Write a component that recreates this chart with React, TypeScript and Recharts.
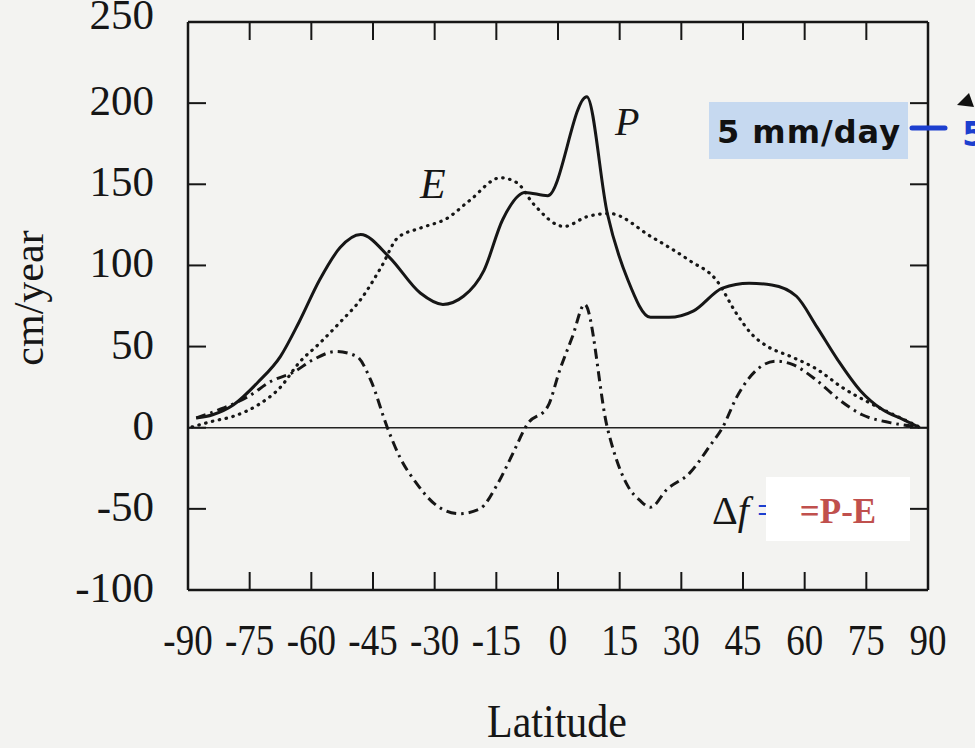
import { LineChart, Line, XAxis, YAxis, ReferenceLine } from 'recharts';

// latitude (deg) and cm/year values
const LAT_TICKS = [-90, -75, -60, -45, -30, -15, 0, 15, 30, 45, 60, 75, 90];
const CMY_TICKS = [-100, -50, 0, 50, 100, 150, 200, 250];

const P_LAT = [-88, -84, -79, -73, -67.5, -63, -58, -53, -48, -41, -33.5, -28, -23, -18, -13.5, -8, -2.5, 7, 12, 17, 22.5, 27, 33, 40, 46.5, 52, 58, 63, 68, 73.5, 79, 84, 88];
const P_VAL = [6, 8, 14, 28, 44, 65, 91, 111, 119, 105, 83, 76, 81, 97, 128, 145, 143, 204, 132, 91, 68, 68, 72, 86, 89, 88, 81, 62, 42, 23, 11, 5, 0];

const E_LAT = [-89, -84, -79, -73, -67.5, -63, -58, -53, -48, -43, -39, -33.5, -27, -21.5, -14, -10, -6, 1.5, 7, 12.5, 22.5, 32, 38.5, 43.5, 47, 51, 56.5, 63, 69, 76, 82.5, 87.5];
const E_VAL = [0.5, 4, 7, 14, 25, 40, 52, 65, 79, 99, 117, 123, 129, 140, 154, 151, 138, 124, 130, 132, 118, 103, 91, 70, 58, 50, 44, 36, 25, 15, 7, 1];

const D_LAT = [-88, -81.5, -75.5, -69.5, -64.5, -59.5, -54, -49, -45.5, -41.5, -38.5, -34.5, -29.5, -24, -19, -15, -11, -7.5, -2.5, 0.5, 3.5, 6.5, 12, 14, 17, 20, 22.5, 26.5, 32, 37, 40, 43.5, 48.5, 53, 57, 63, 68.5, 74, 81, 87.5];
const D_VAL = [6, 12, 19, 29, 34, 42, 47, 44, 29, 0, -18, -34, -48, -53, -50, -36, -16, 2, 13, 36, 56, 76, 0, -18, -36, -45, -49, -38, -28, -11, 0, 19, 36, 41, 39, 29, 17, 8, 3, 0.5];

const toRows = (lat: number[], val: number[]) => lat.map((l, i) => ({ lat: l, v: val[i] }));

const INK = '#161616';
const SERIF = '"Liberation Serif", "Times New Roman", serif';

function BottomTick({ x, y, payload }: any) {
  return (
    <g>
      <line x1={x} y1={y} x2={x} y2={y - 18} stroke={INK} strokeWidth={2} />
      <text
        transform={`translate(${x} ${y + 65}) scale(1 1.2)`}
        textAnchor="middle"
        fontFamily={SERIF}
        fontSize={37}
        fill={INK}
      >
        {payload.value}
      </text>
    </g>
  );
}

function TopTick({ x, y }: any) {
  return <line x1={x} y1={y} x2={x} y2={y + 18} stroke={INK} strokeWidth={2} />;
}

function LeftTick({ x, y, payload }: any) {
  const dy = payload.value === 250 ? -8 : -3;
  return (
    <g>
      <line x1={x} y1={y} x2={x + 18} y2={y} stroke={INK} strokeWidth={2} />
      <text x={x - 34} y={y + dy + 15} textAnchor="end" fontFamily={SERIF} fontSize={43} fill={INK}>
        {payload.value}
      </text>
    </g>
  );
}

function RightTick({ x, y }: any) {
  return <line x1={x} y1={y} x2={x - 18} y2={y} stroke={INK} strokeWidth={2} />;
}

export default function App() {
  return (
    <div style={{ position: 'absolute', left: 0, top: 0, width: 975, height: 748, background: '#f3f3f1', overflow: 'hidden' }}>
      <LineChart width={975} height={748} margin={{ top: 21, right: 46, left: 0, bottom: 0 }}>
        <XAxis
          xAxisId="b"
          dataKey="lat"
          type="number"
          domain={[-90, 90]}
          ticks={LAT_TICKS}
          orientation="bottom"
          height={158}
          tickSize={0}
          tickMargin={0}
          tickLine={false}
          axisLine={{ stroke: INK, strokeWidth: 2.5 }}
          tick={<BottomTick />}
          interval={0}
          allowDataOverflow
        />
        <XAxis
          xAxisId="t"
          dataKey="lat"
          type="number"
          domain={[-90, 90]}
          ticks={LAT_TICKS}
          orientation="top"
          height={1}
          tickSize={0}
          tickMargin={0}
          tickLine={false}
          axisLine={{ stroke: INK, strokeWidth: 2.5 }}
          tick={<TopTick />}
          interval={0}
          allowDataOverflow
        />
        <YAxis
          yAxisId="l"
          type="number"
          domain={[-100, 250]}
          ticks={CMY_TICKS}
          width={188}
          tickSize={0}
          tickMargin={0}
          tickLine={false}
          axisLine={{ stroke: INK, strokeWidth: 2.5 }}
          tick={<LeftTick />}
          interval={0}
          allowDataOverflow
        />
        <YAxis
          yAxisId="r"
          type="number"
          orientation="right"
          domain={[-100, 250]}
          ticks={CMY_TICKS}
          width={1}
          tickSize={0}
          tickMargin={0}
          tickLine={false}
          axisLine={{ stroke: INK, strokeWidth: 2.5 }}
          tick={<RightTick />}
          interval={0}
          allowDataOverflow
        />
        <ReferenceLine xAxisId="b" yAxisId="l" y={0} stroke="#222" strokeWidth={1.5} />
        <Line
          xAxisId="b"
          yAxisId="l"
          data={toRows(E_LAT, E_VAL)}
          dataKey="v"
          type="monotone"
          stroke={INK}
          strokeWidth={3.2}
          strokeDasharray="0.5 6.5"
          strokeLinecap="round"
          dot={false}
          isAnimationActive={false}
        />
        <Line
          xAxisId="b"
          yAxisId="l"
          data={toRows(D_LAT, D_VAL)}
          dataKey="v"
          type="monotone"
          stroke={INK}
          strokeWidth={3}
          strokeDasharray="10 5 2.5 5"
          dot={false}
          isAnimationActive={false}
        />
        <Line
          xAxisId="b"
          yAxisId="l"
          data={toRows(P_LAT, P_VAL)}
          dataKey="v"
          type="monotone"
          stroke={INK}
          strokeWidth={3}
          dot={false}
          isAnimationActive={false}
        />
      </LineChart>
      <svg width={975} height={748} style={{ position: 'absolute', left: 0, top: 0, pointerEvents: 'none' }}>
        <text transform="translate(43 298) rotate(-90)" textAnchor="middle" fontFamily={SERIF} fontSize={42} fill={INK}>
          cm/year
        </text>
        <text transform="translate(557 737) scale(1 1.12)" textAnchor="middle" fontFamily={SERIF} fontSize={42} fill={INK}>
          Latitude
        </text>
        <text x={615} y={135} fontFamily={SERIF} fontStyle="italic" fontSize={40} fill={INK}>P</text>
        <text x={420} y={198} fontFamily={SERIF} fontStyle="italic" fontSize={42} fill={INK}>E</text>
        <text x={712} y={524} fontFamily={SERIF} fontSize={40} fill={INK}>
          Δ<tspan fontStyle="italic">f</tspan>
          <tspan dx={8} fill="#1c3fcf">=</tspan>
        </text>
        <rect x={766} y={477} width={144} height={64} fill="#ffffff" />
        <text x={838} y={523} textAnchor="middle" fontFamily={SERIF} fontWeight="bold" fontSize={35} fill="#c0504d">
          =P-E
        </text>
        <rect x={709} y={102} width={199} height={57} fill="#c6d9f0" />
        <text x={809} y={143} textAnchor="middle" fontFamily='"DejaVu Sans", Verdana, sans-serif' fontWeight="bold" fontSize={32} letterSpacing={1} fill="#111">
          5 mm/day
        </text>
        <line x1={912} y1={128} x2={945} y2={128} stroke="#1c3fcf" strokeWidth={5} strokeLinecap="round" />
        <text x={962} y={146} fontFamily='"DejaVu Sans", sans-serif' fontWeight="bold" fontSize={34} fill="#1c3fcf">5</text>
        <polygon points="957,105 969,93 974,107" fill="#111" />
      </svg>
    </div>
  );
}
